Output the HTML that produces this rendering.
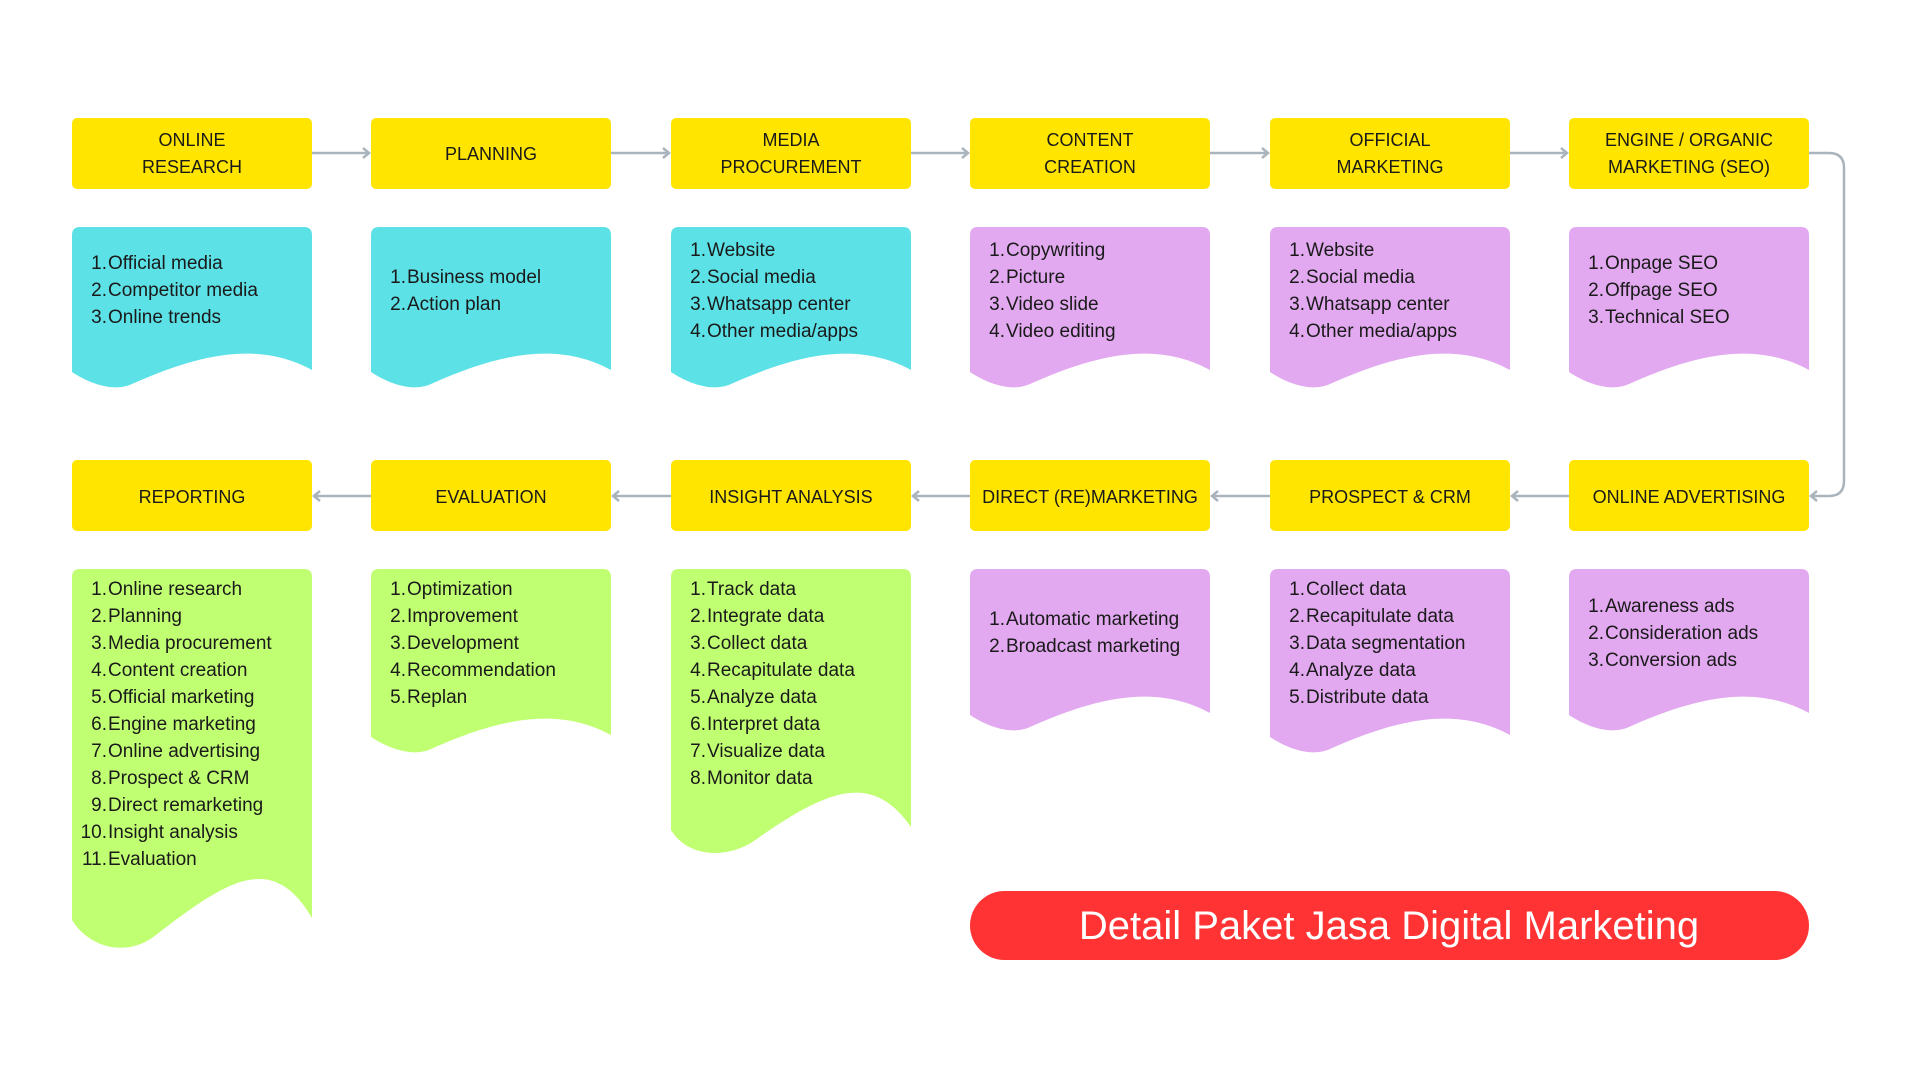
<!DOCTYPE html>
<html><head><meta charset="utf-8"><style>
html,body{margin:0;padding:0;background:#fff}
svg{display:block}
text{font-family:"Liberation Sans",sans-serif;fill:#1a1a1a}
.h{font-size:18px;text-anchor:middle}
.n{font-size:19px;text-anchor:end}
.t{font-size:19px}
</style></head><body>
<svg width="1920" height="1080" viewBox="0 0 1920 1080" xmlns="http://www.w3.org/2000/svg">
<defs><marker id="a" markerWidth="12" markerHeight="12" refX="9" refY="6" orient="auto" markerUnits="userSpaceOnUse"><path d="M3,1 L9,6 L3,11" fill="none" stroke="#aab4bc" stroke-width="2.5"/></marker></defs>
<g fill="#ffe500">
<rect x="72" y="118" width="240" height="71" rx="5"/><rect x="371" y="118" width="240" height="71" rx="5"/><rect x="671" y="118" width="240" height="71" rx="5"/><rect x="970" y="118" width="240" height="71" rx="5"/><rect x="1270" y="118" width="240" height="71" rx="5"/><rect x="1569" y="118" width="240" height="71" rx="5"/>
<rect x="72" y="460" width="240" height="71" rx="5"/><rect x="371" y="460" width="240" height="71" rx="5"/><rect x="671" y="460" width="240" height="71" rx="5"/><rect x="970" y="460" width="240" height="71" rx="5"/><rect x="1270" y="460" width="240" height="71" rx="5"/><rect x="1569" y="460" width="240" height="71" rx="5"/>
</g>
<g stroke="#aab4bc" stroke-width="2.5" fill="none" marker-end="url(#a)">
<line x1="312" y1="153" x2="369" y2="153"/><line x1="611" y1="153" x2="669" y2="153"/><line x1="911" y1="153" x2="968" y2="153"/><line x1="1210" y1="153" x2="1268" y2="153"/><line x1="1510" y1="153" x2="1567" y2="153"/>
<path d="M1809,153 L1829,153 Q1844,153 1844,168 L1844,481 Q1844,496 1829,496 L1811,496"/>
<line x1="1569" y1="496" x2="1512" y2="496"/><line x1="1270" y1="496" x2="1212" y2="496"/><line x1="970" y1="496" x2="913" y2="496"/><line x1="671" y1="496" x2="613" y2="496"/><line x1="371" y1="496" x2="314" y2="496"/>
</g>
<g>
<text class="h" x="192" y="146">ONLINE</text><text class="h" x="192" y="173">RESEARCH</text>
<text class="h" x="491" y="160">PLANNING</text>
<text class="h" x="791" y="146">MEDIA</text><text class="h" x="791" y="173">PROCUREMENT</text>
<text class="h" x="1090" y="146">CONTENT</text><text class="h" x="1090" y="173">CREATION</text>
<text class="h" x="1390" y="146">OFFICIAL</text><text class="h" x="1390" y="173">MARKETING</text>
<text class="h" x="1689" y="146">ENGINE / ORGANIC</text><text class="h" x="1689" y="173">MARKETING (SEO)</text>
<text class="h" x="192" y="503">REPORTING</text><text class="h" x="491" y="503">EVALUATION</text><text class="h" x="791" y="503">INSIGHT ANALYSIS</text><text class="h" x="1090" y="503">DIRECT (RE)MARKETING</text><text class="h" x="1390" y="503">PROSPECT &amp; CRM</text><text class="h" x="1689" y="503">ONLINE ADVERTISING</text>
</g>
<path fill="#5ce1e6" d="M72,235 Q72,227 80,227 L304,227 Q312,227 312,235 L312,370 C257,340 197,355 132,384 C112,393 87,382 72,372 Z"/>
<path fill="#5ce1e6" d="M371,235 Q371,227 379,227 L603,227 Q611,227 611,235 L611,370 C556,340 496,355 431,384 C411,393 386,382 371,372 Z"/>
<path fill="#5ce1e6" d="M671,235 Q671,227 679,227 L903,227 Q911,227 911,235 L911,370 C856,340 796,355 731,384 C711,393 686,382 671,372 Z"/>
<path fill="#e2a9f0" d="M970,235 Q970,227 978,227 L1202,227 Q1210,227 1210,235 L1210,370 C1155,340 1095,355 1030,384 C1010,393 985,382 970,372 Z"/>
<path fill="#e2a9f0" d="M1270,235 Q1270,227 1278,227 L1502,227 Q1510,227 1510,235 L1510,370 C1455,340 1395,355 1330,384 C1310,393 1285,382 1270,372 Z"/>
<path fill="#e2a9f0" d="M1569,235 Q1569,227 1577,227 L1801,227 Q1809,227 1809,235 L1809,370 C1754,340 1694,355 1629,384 C1609,393 1584,382 1569,372 Z"/>
<path fill="#c1ff72" d="M72,577 Q72,569 80,569 L304,569 Q312,569 312,577 L312,918 C272,850 227,880 152,938 C122,958 87,945 72,920 Z"/>
<path fill="#c1ff72" d="M371,577 Q371,569 379,569 L603,569 Q611,569 611,577 L611,735 C556,705 496,720 431,749 C411,758 386,747 371,737 Z"/>
<path fill="#c1ff72" d="M671,577 Q671,569 679,569 L903,569 Q911,569 911,577 L911,827 C871,770 826,790 751,843 C721,860 686,855 671,830 Z"/>
<path fill="#e2a9f0" d="M970,577 Q970,569 978,569 L1202,569 Q1210,569 1210,577 L1210,713 C1155,683 1095,698 1030,727 C1010,736 985,725 970,715 Z"/>
<path fill="#e2a9f0" d="M1270,577 Q1270,569 1278,569 L1502,569 Q1510,569 1510,577 L1510,735 C1455,705 1395,720 1330,749 C1310,758 1285,747 1270,737 Z"/>
<path fill="#e2a9f0" d="M1569,577 Q1569,569 1577,569 L1801,569 Q1809,569 1809,577 L1809,713 C1754,683 1694,698 1629,727 C1609,736 1584,725 1569,715 Z"/>
<g>
<text class="n" x="107" y="269">1.</text><text class="t" x="108" y="269">Official media</text>
<text class="n" x="107" y="296">2.</text><text class="t" x="108" y="296">Competitor media</text>
<text class="n" x="107" y="323">3.</text><text class="t" x="108" y="323">Online trends</text>
<text class="n" x="406" y="283">1.</text><text class="t" x="407" y="283">Business model</text>
<text class="n" x="406" y="310">2.</text><text class="t" x="407" y="310">Action plan</text>
<text class="n" x="706" y="256">1.</text><text class="t" x="707" y="256">Website</text>
<text class="n" x="706" y="283">2.</text><text class="t" x="707" y="283">Social media</text>
<text class="n" x="706" y="310">3.</text><text class="t" x="707" y="310">Whatsapp center</text>
<text class="n" x="706" y="337">4.</text><text class="t" x="707" y="337">Other media/apps</text>
<text class="n" x="1005" y="256">1.</text><text class="t" x="1006" y="256">Copywriting</text>
<text class="n" x="1005" y="283">2.</text><text class="t" x="1006" y="283">Picture</text>
<text class="n" x="1005" y="310">3.</text><text class="t" x="1006" y="310">Video slide</text>
<text class="n" x="1005" y="337">4.</text><text class="t" x="1006" y="337">Video editing</text>
<text class="n" x="1305" y="256">1.</text><text class="t" x="1306" y="256">Website</text>
<text class="n" x="1305" y="283">2.</text><text class="t" x="1306" y="283">Social media</text>
<text class="n" x="1305" y="310">3.</text><text class="t" x="1306" y="310">Whatsapp center</text>
<text class="n" x="1305" y="337">4.</text><text class="t" x="1306" y="337">Other media/apps</text>
<text class="n" x="1604" y="269">1.</text><text class="t" x="1605" y="269">Onpage SEO</text>
<text class="n" x="1604" y="296">2.</text><text class="t" x="1605" y="296">Offpage SEO</text>
<text class="n" x="1604" y="323">3.</text><text class="t" x="1605" y="323">Technical SEO</text>
<text class="n" x="107" y="595">1.</text><text class="t" x="108" y="595">Online research</text>
<text class="n" x="107" y="622">2.</text><text class="t" x="108" y="622">Planning</text>
<text class="n" x="107" y="649">3.</text><text class="t" x="108" y="649">Media procurement</text>
<text class="n" x="107" y="676">4.</text><text class="t" x="108" y="676">Content creation</text>
<text class="n" x="107" y="703">5.</text><text class="t" x="108" y="703">Official marketing</text>
<text class="n" x="107" y="730">6.</text><text class="t" x="108" y="730">Engine marketing</text>
<text class="n" x="107" y="757">7.</text><text class="t" x="108" y="757">Online advertising</text>
<text class="n" x="107" y="784">8.</text><text class="t" x="108" y="784">Prospect &amp; CRM</text>
<text class="n" x="107" y="811">9.</text><text class="t" x="108" y="811">Direct remarketing</text>
<text class="n" x="107" y="838">10.</text><text class="t" x="108" y="838">Insight analysis</text>
<text class="n" x="107" y="865">11.</text><text class="t" x="108" y="865">Evaluation</text>
<text class="n" x="406" y="595">1.</text><text class="t" x="407" y="595">Optimization</text>
<text class="n" x="406" y="622">2.</text><text class="t" x="407" y="622">Improvement</text>
<text class="n" x="406" y="649">3.</text><text class="t" x="407" y="649">Development</text>
<text class="n" x="406" y="676">4.</text><text class="t" x="407" y="676">Recommendation</text>
<text class="n" x="406" y="703">5.</text><text class="t" x="407" y="703">Replan</text>
<text class="n" x="706" y="595">1.</text><text class="t" x="707" y="595">Track data</text>
<text class="n" x="706" y="622">2.</text><text class="t" x="707" y="622">Integrate data</text>
<text class="n" x="706" y="649">3.</text><text class="t" x="707" y="649">Collect data</text>
<text class="n" x="706" y="676">4.</text><text class="t" x="707" y="676">Recapitulate data</text>
<text class="n" x="706" y="703">5.</text><text class="t" x="707" y="703">Analyze data</text>
<text class="n" x="706" y="730">6.</text><text class="t" x="707" y="730">Interpret data</text>
<text class="n" x="706" y="757">7.</text><text class="t" x="707" y="757">Visualize data</text>
<text class="n" x="706" y="784">8.</text><text class="t" x="707" y="784">Monitor data</text>
<text class="n" x="1005" y="625">1.</text><text class="t" x="1006" y="625">Automatic marketing</text>
<text class="n" x="1005" y="652">2.</text><text class="t" x="1006" y="652">Broadcast marketing</text>
<text class="n" x="1305" y="595">1.</text><text class="t" x="1306" y="595">Collect data</text>
<text class="n" x="1305" y="622">2.</text><text class="t" x="1306" y="622">Recapitulate data</text>
<text class="n" x="1305" y="649">3.</text><text class="t" x="1306" y="649">Data segmentation</text>
<text class="n" x="1305" y="676">4.</text><text class="t" x="1306" y="676">Analyze data</text>
<text class="n" x="1305" y="703">5.</text><text class="t" x="1306" y="703">Distribute data</text>
<text class="n" x="1604" y="612">1.</text><text class="t" x="1605" y="612">Awareness ads</text>
<text class="n" x="1604" y="639">2.</text><text class="t" x="1605" y="639">Consideration ads</text>
<text class="n" x="1604" y="666">3.</text><text class="t" x="1605" y="666">Conversion ads</text>
</g>
<rect x="970" y="891" width="839" height="69" rx="34.5" fill="#ff3333"/>
<text x="1389" y="939" text-anchor="middle" style="font-size:40px;fill:#fff">Detail Paket Jasa Digital Marketing</text>
</svg>
</body></html>
